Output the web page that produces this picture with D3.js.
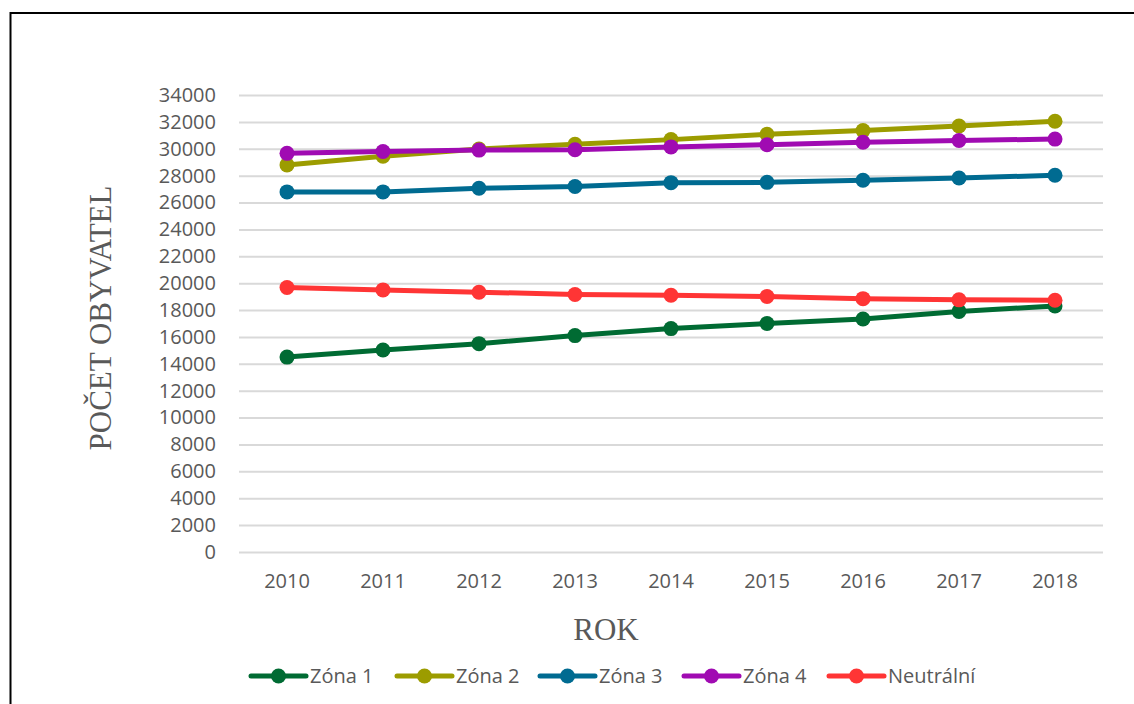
<!DOCTYPE html>
<html>
<head>
<meta charset="utf-8">
<script src="https://cdn.jsdelivr.net/npm/d3@7"></script>
<style>
  body { margin: 0; background: #fff; }
  svg { display: block; }
</style>
</head>
<body>
<div id="chart"></div>
<script>
const years = ['2010', '2011', '2012', '2013', '2014', '2015', '2016', '2017', '2018'];
const yTicks = [0, 2000, 4000, 6000, 8000, 10000, 12000, 14000, 16000, 18000, 20000, 22000, 24000, 26000, 28000, 30000, 32000, 34000];

const zona1 = [14500, 15030, 15500, 16100, 16620, 17000, 17340, 17900, 18300];
const zona2 = [28800, 29450, 29980, 30330, 30680, 31080, 31350, 31690, 32050];
const zona3 = [26790, 26790, 27060, 27190, 27480, 27500, 27660, 27820, 28030];
const zona4 = [29660, 29800, 29900, 29930, 30140, 30300, 30480, 30620, 30720];
const neutralni = [19680, 19500, 19330, 19160, 19100, 19010, 18850, 18760, 18730];

const seriesNames = ['Zóna 1', 'Zóna 2', 'Zóna 3', 'Zóna 4', 'Neutrální'];
const seriesValues = [zona1, zona2, zona3, zona4, neutralni];
const seriesColors = ['#006B33', '#9C9C00', '#006B91', '#A00BB2', '#FF3535'];

const WIDTH = 1134;
const HEIGHT = 704;
const PLOT_LEFT = 239;
const PLOT_RIGHT = 1103;
const PLOT_TOP = 95;
const PLOT_BOTTOM = 552;
const TEXT_COLOR = '#595959';
const SANS = '"Open Sans", "Noto Sans", sans-serif';
const SERIF = '"Liberation Serif", "Times New Roman", serif';

const svg = d3.select('#chart')
  .append('svg')
  .attr('width', WIDTH)
  .attr('height', HEIGHT);

// outer frame (right and bottom edges fall outside the picture)
svg.append('rect')
  .attr('x', 10.5)
  .attr('y', 13)
  .attr('width', 1200)
  .attr('height', 800)
  .attr('fill', 'none')
  .attr('stroke', '#000')
  .attr('stroke-width', 2);

const x = d3.scaleBand().domain(years).range([PLOT_LEFT, PLOT_RIGHT]);
const y = d3.scaleLinear().domain([0, 34000]).range([PLOT_BOTTOM, PLOT_TOP]);

// gridlines + y labels
const yAxis = svg.append('g')
  .attr('transform', `translate(${PLOT_LEFT},0)`)
  .call(d3.axisLeft(y).tickValues(yTicks).tickSize(-(PLOT_RIGHT - PLOT_LEFT)).tickPadding(23).tickFormat(d3.format('d')));
yAxis.select('.domain').remove();
yAxis.selectAll('.tick line').attr('stroke', '#d9d9d9').attr('stroke-width', 2);
yAxis.selectAll('.tick text')
  .attr('fill', TEXT_COLOR)
  .attr('font-family', SANS)
  .attr('font-size', '20px');

// x labels
const xAxis = svg.append('g')
  .attr('transform', `translate(0,${PLOT_BOTTOM})`)
  .call(d3.axisBottom(x).tickSize(0).tickPadding(22));
xAxis.select('.domain').remove();
xAxis.selectAll('.tick text')
  .attr('fill', TEXT_COLOR)
  .attr('font-family', SANS)
  .attr('font-size', '20px');

// axis titles
svg.append('text')
  .attr('transform', `translate(111,318) rotate(-90)`)
  .attr('text-anchor', 'middle')
  .attr('fill', TEXT_COLOR)
  .attr('font-family', SERIF)
  .attr('font-size', '31px')
  .text('POČET OBYVATEL');

svg.append('text')
  .attr('x', 606)
  .attr('y', 640)
  .attr('text-anchor', 'middle')
  .attr('fill', TEXT_COLOR)
  .attr('font-family', SERIF)
  .attr('font-size', '31px')
  .text('ROK');

// series
const line = d3.line()
  .x((d, i) => x(years[i]) + x.bandwidth() / 2)
  .y((d) => y(d));

seriesValues.forEach((values, idx) => {
  const g = svg.append('g');
  g.append('path')
    .datum(values)
    .attr('d', line)
    .attr('fill', 'none')
    .attr('stroke', seriesColors[idx])
    .attr('stroke-width', 5)
    .attr('stroke-linejoin', 'round');
  g.selectAll('circle')
    .data(values)
    .join('circle')
    .attr('cx', (d, i) => x(years[i]) + x.bandwidth() / 2)
    .attr('cy', (d) => y(d))
    .attr('r', 7.5)
    .attr('fill', seriesColors[idx]);
});

// legend
const legendX = [251, 397, 540, 684, 829];
const legendY = 676;
seriesNames.forEach((name, idx) => {
  const g = svg.append('g').attr('transform', `translate(${legendX[idx]},${legendY})`);
  g.append('line')
    .attr('x1', 0)
    .attr('x2', 55)
    .attr('stroke', seriesColors[idx])
    .attr('stroke-width', 5)
    .attr('stroke-linecap', 'round');
  g.append('circle')
    .attr('cx', 27.5)
    .attr('r', 7.5)
    .attr('fill', seriesColors[idx]);
  g.append('text')
    .attr('x', 59)
    .attr('y', 7)
    .attr('fill', TEXT_COLOR)
    .attr('font-family', SANS)
    .attr('font-size', '20px')
    .text(name);
});
</script>
</body>
</html>
